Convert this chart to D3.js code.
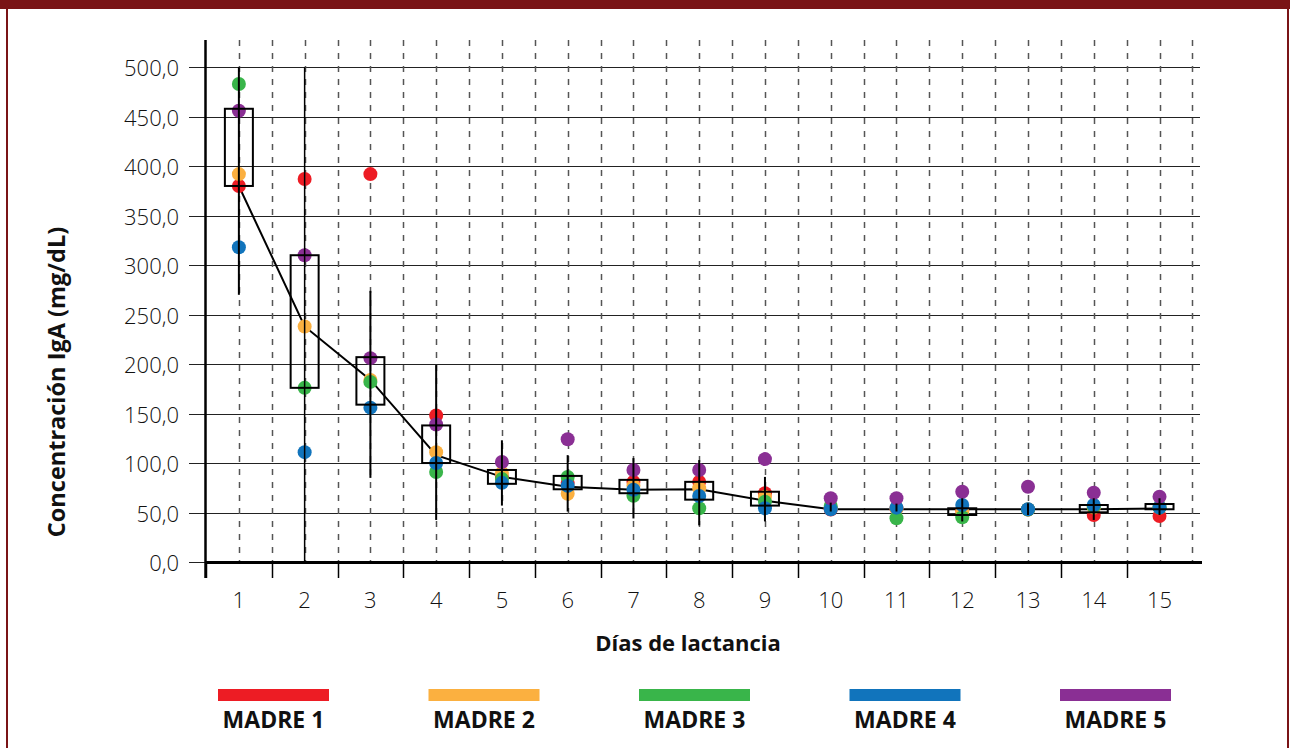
<!DOCTYPE html>
<meta charset="utf-8">
<style>
body { margin: 0; background: #fff; }
text { font-family: "Open Sans", sans-serif; fill: #111; }
.tickLabel { font-size: 22px; font-weight: 300; }
.axisTitle { font-size: 22px; font-weight: 700; }
.yTitle { font-size: 23.5px; font-weight: 700; }
.legendLabel { font-size: 23px; font-weight: 700; }
.grid { stroke: #222; stroke-width: 1px; }
.dash { stroke: #555; stroke-width: 1.5px; stroke-dasharray: 6,7; }
</style>
<body>
<svg id="chart" width="1290" height="748"></svg>
<script src="https://d3js.org/d3.v7.min.js"></script>
<script>
// categories
const days = [1, 2, 3, 4, 5, 6, 7, 8, 9, 10, 11, 12, 13, 14, 15];
const yTicks = [0, 50, 100, 150, 200, 250, 300, 350, 400, 450, 500];
const mothers = ["MADRE 1", "MADRE 2", "MADRE 3", "MADRE 4", "MADRE 5"];
const colors = ["#ed1c24", "#fbb040", "#39b54a", "#1174bc", "#8a2f94"];

// IgA per mother and day (mg/dL)
const madre1 = [380, 387, 392, 148, 86, 80, 81, 81, 69.5, 53, 54, 52, 53, 47.5, 46.5];
const madre2 = [392, 238, 184, 111, 90, 69, 77, 74.5, 66, 54, 54, 51, 53, 55, 55];
const madre3 = [483, 176, 182, 91, 84, 86, 67, 54.3, 61, 56.6, 44.2, 45.2, 53, 56, 55];
const madre4 = [318, 111, 156, 100, 80, 77, 73, 66.7, 54.3, 53.3, 54.9, 57.6, 53.3, 57.6, 55];
const madre5 = [456, 310, 206, 139, 101, 124, 93, 93, 104, 64.4, 64.5, 71, 76, 70, 66];

// boxes, whiskers and central line
const boxLow  = [380, 176, 159, 100, 79, 73.5, 69.5, 63, 57, null, null, 47.5, null, 50.2, 53.3];
const boxHigh = [458, 310, 207, 138, 93, 87, 83, 81, 71, null, null, 54.3, null, 57.6, 58.6];
const whiskLow  = [270, 0, 85, 42.5, 57, 51, 44, 37, 41, 51, 51, 41, 47.5, 42.5, 47.5];
const whiskHigh = [500, 500, 274, 199, 123, 108, 105, 103, 86, 60, 59, 64.4, 59.3, 64.4, 64.4];
const trend = [380, 238, 184, 108, 86, 76, 73, 73.5, 62, 53.3, 53.3, 53.3, 53.3, 53.3, 54];

const series = [madre1, madre2, madre3, madre4, madre5];

const svg = d3.select("#chart");
const x = d3.scaleBand().domain(days).range([206, 1192.4]);
const y = d3.scaleLinear().domain([0, 527.5]).range([562, 40]);
const bw = x.bandwidth();
const cx = d => x(d) + bw / 2;
const fmt = d3.formatLocale({decimal: ",", thousands: ".", grouping: [3], currency: ["", ""]}).format(".1f");

// frame
svg.append("rect").attr("x", 0).attr("y", 0).attr("width", 1290).attr("height", 9).attr("fill", "#7a1416");
svg.append("rect").attr("x", 6).attr("y", 0).attr("width", 2).attr("height", 748).attr("fill", "#7a1416");
svg.append("rect").attr("x", 1287).attr("y", 0).attr("width", 2).attr("height", 748).attr("fill", "#7a1416");

// horizontal grid + y labels
svg.append("g").selectAll("line").data(yTicks).join("line")
    .attr("class", "grid")
    .attr("x1", 189).attr("x2", 1200)
    .attr("y1", d => Math.round(y(d)) + 0.5).attr("y2", d => Math.round(y(d)) + 0.5);

svg.append("g").selectAll("text").data(yTicks).join("text")
    .attr("class", "tickLabel")
    .attr("x", 179).attr("y", d => y(d) + 9)
    .attr("text-anchor", "end")
    .text(fmt);

// dashed verticals at centres and band edges
const edges = days.slice(1).map(d => x(d)).concat([x(days[days.length - 1]) + bw]);
const vx = days.map(cx).concat(edges);
svg.append("g").selectAll("line").data(vx).join("line")
    .attr("class", "dash")
    .attr("x1", d => Math.round(d) + 0.5).attr("x2", d => Math.round(d) + 0.5)
    .attr("y1", 40).attr("y2", 562);

// axes
svg.append("line").attr("x1", 205.5).attr("x2", 205.5).attr("y1", 40).attr("y2", 578)
    .attr("stroke", "#000").attr("stroke-width", 2.5);
svg.append("line").attr("x1", 205).attr("x2", 1202).attr("y1", 562.5).attr("y2", 562.5)
    .attr("stroke", "#000").attr("stroke-width", 3);
svg.append("g").selectAll("line").data(days).join("line")
    .attr("x1", d => Math.round(x(d)) + 0.5).attr("x2", d => Math.round(x(d)) + 0.5)
    .attr("y1", 562).attr("y2", 578)
    .attr("stroke", "#000").attr("stroke-width", 1.5);
svg.append("g").selectAll("text").data(days).join("text")
    .attr("class", "tickLabel")
    .attr("x", cx).attr("y", 608)
    .attr("text-anchor", "middle")
    .text(d => d);

// trend line
svg.append("path")
    .datum(trend)
    .attr("fill", "none").attr("stroke", "#000").attr("stroke-width", 2)
    .attr("d", d3.line().x((v, i) => cx(days[i])).y(v => y(v)));

// dots
series.forEach((s, k) => {
    svg.append("g").selectAll("circle").data(s).join("circle")
        .attr("cx", (v, i) => cx(days[i]))
        .attr("cy", v => y(v))
        .attr("r", 7)
        .attr("fill", colors[k]);
});

// boxes
svg.append("g").selectAll("rect").data(days.filter((d, i) => boxLow[i] != null)).join("rect")
    .attr("x", d => cx(d) - 14)
    .attr("width", 28)
    .attr("y", d => y(boxHigh[d - 1]))
    .attr("height", d => y(boxLow[d - 1]) - y(boxHigh[d - 1]))
    .attr("fill", "none").attr("stroke", "#000").attr("stroke-width", 2);

// whiskers
svg.append("g").selectAll("line").data(days).join("line")
    .attr("x1", cx).attr("x2", cx)
    .attr("y1", d => y(whiskHigh[d - 1]))
    .attr("y2", d => y(whiskLow[d - 1]))
    .attr("stroke", "#000").attr("stroke-width", d => d === 2 ? 1.5 : 2);

// axis titles
svg.append("text").attr("class", "axisTitle")
    .attr("x", 688).attr("y", 651).attr("text-anchor", "middle")
    .text("Días de lactancia");
svg.append("text").attr("class", "yTitle")
    .attr("transform", "translate(65,382) rotate(-90)")
    .attr("text-anchor", "middle")
    .text("Concentración IgA (mg/dL)");

// legend
const lg = svg.append("g").selectAll("g").data(mothers).join("g")
    .attr("transform", (d, i) => `translate(${218 + i * 210.5},689)`);
lg.append("rect").attr("width", 111).attr("height", 12).attr("fill", (d, i) => colors[i]);
lg.append("text").attr("class", "legendLabel")
    .attr("x", 55.5).attr("y", 39).attr("text-anchor", "middle")
    .text(d => d);
</script>
</body>
